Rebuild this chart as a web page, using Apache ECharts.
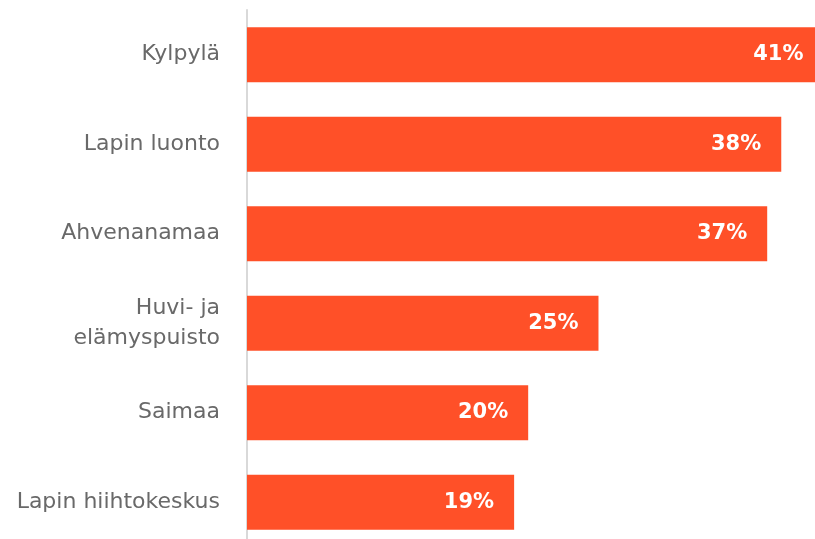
<!DOCTYPE html>
<html><head><meta charset="utf-8">
<script src="https://cdn.jsdelivr.net/npm/echarts@6/dist/echarts.min.js"></script>
<style>html,body{margin:0;padding:0;background:#fff}#c{width:815px;height:539px}</style>
</head><body><div id="c"></div>
<script>
const categories = ["Kylpylä", "Lapin luonto", "Ahvenanamaa", "Huvi- ja\nelämyspuisto", "Saimaa", "Lapin hiihtokeskus"];
const values = [41, 38, 37, 25, 20, 19];

const chart = echarts.init(document.getElementById('c'), null, {renderer: 'canvas'});
chart.setOption({
  animation: false,
  grid: {left: 247, width: 568, top: 10, height: 537, containLabel: false, outerBoundsMode: 'none'},
  xAxis: {type: 'value', min: 0, max: 40.4, show: false},
  yAxis: {
    type: 'category', data: categories, inverse: true,
    axisLine: {show: true, lineStyle: {color: '#d9d9d9', width: 2}},
    axisTick: {show: false},
    axisLabel: {color: '#696969', fontSize: 22, fontFamily: 'DejaVu Sans', margin: 27, lineHeight: 30, align: 'right'}
  },
  series: [{
    type: 'bar', data: values, barWidth: 55, clip: false,
    itemStyle: {color: '#FF5028'},
    label: {show: true, position: 'insideRight', distance: 20, formatter: '{c}%', color: '#ffffff', fontWeight: 'bold', fontSize: 21, fontFamily: 'DejaVu Sans'}
  }]
});
</script></body></html>
